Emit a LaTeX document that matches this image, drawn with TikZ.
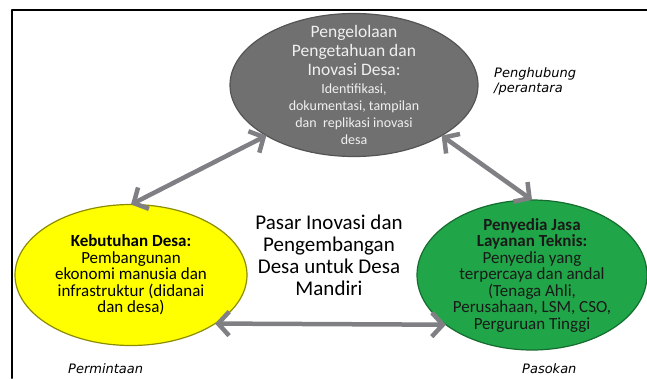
\documentclass[tikz,border=0pt]{standalone}
\usepackage{fontspec}
\setmainfont{Carlito}
\newfontfamily\labelfont{DejaVu Sans}
\usetikzlibrary{shapes.geometric,arrows.meta}
\definecolor{knowgray}{RGB}{112,112,112}
\definecolor{needyellow}{RGB}{255,255,0}
\definecolor{supplygreen}{RGB}{32,166,72}
\definecolor{linkgray}{RGB}{128,128,132}
\newcommand{\kbody}{\fontsize{14}{17}\selectfont}
\newcommand{\khead}{\bfseries}
\newcommand{\kplain}{\mdseries}
\begin{document}
\begin{tikzpicture}[x=1pt, y=-1pt, line cap=round, line join=round, >={Straight Barb[length=11pt, width=24pt]}]
	\tikzset{bubble/.style={ellipse, inner sep=0pt, outer sep=0pt, line width=1.2pt},
		bubbletext/.style={align=flush center, inner sep=0pt},
		link/.style={<->, draw=linkgray, line width=4.5pt},
		sidelabel/.style={font=\labelfont\itshape\fontsize{13}{15}\selectfont, align=left, anchor=base west, inner sep=0pt}}
	\useasboundingbox (0,0) rectangle (647,378);
	% frame
	\draw[line width=2pt] (12,378) -- (12,10) -- (647,10);
	% the three parties
	\node[bubble, fill=knowgray, draw=knowgray!75!black, minimum width=248pt, minimum height=143pt] (pengelolaan) at (354,85) {};
	\node[bubble, fill=needyellow, draw=needyellow!55!black, minimum width=232pt, minimum height=141pt] (kebutuhan) at (131,275) {};
	\node[bubble, fill=supplygreen, draw=supplygreen!65!black, minimum width=230pt, minimum height=150pt] (penyedia) at (532,275) {};
	\node[bubbletext, text=white!94!black, font=\fontsize{17.5}{19}\selectfont] (pengelolaan-txt) at (pengelolaan) {Pengelolaan\\Pengetahuan dan\\Inovasi Desa:\\[-1pt]\kbody Identifikasi,\\[-2pt]\kbody dokumentasi, tampilan\\[-2pt]\kbody dan~~replikasi inovasi\\[-2pt]\kbody desa};
	\node[bubbletext, font=\fontsize{17}{16.5}\selectfont] (kebutuhan-txt) at (kebutuhan) {\khead Kebutuhan Desa:\\\kplain Pembangunan\\\kplain ekonomi manusia dan\\\kplain infrastruktur (didanai\\\kplain dan desa)};
	\node[bubbletext, text=black!90, font=\fontsize{17}{16.5}\selectfont] (penyedia-txt) at (penyedia) {\khead Penyedia Jasa\\\khead Layanan Teknis:\\\kplain Penyedia yang\\\kplain terpercaya dan andal\\\kplain (Tenaga Ahli,\\\kplain Perusahaan, LSM, CSO,\\\kplain Perguruan Tinggi};
	% market in the middle
	\node[bubbletext, font=\fontsize{21}{22}\selectfont] (pasar) at (329,255) {Pasar Inovasi dan\\Pengembangan\\Desa untuk Desa\\Mandiri};
	% links
	\draw[link] (kebutuhan.north) -- (pengelolaan.210);
	\draw[link] (pengelolaan.-30) -- (penyedia.north);
	\draw[link] (kebutuhan.-30) -- (penyedia.210);
	% roles
	\node[sidelabel] (penghubung) at (494,92) {Penghubung\\/perantara};
	\node[sidelabel] (permintaan) at (68,373) {Permintaan};
	\node[sidelabel] (pasokan) at (522,373) {Pasokan};
\end{tikzpicture}
\end{document}
